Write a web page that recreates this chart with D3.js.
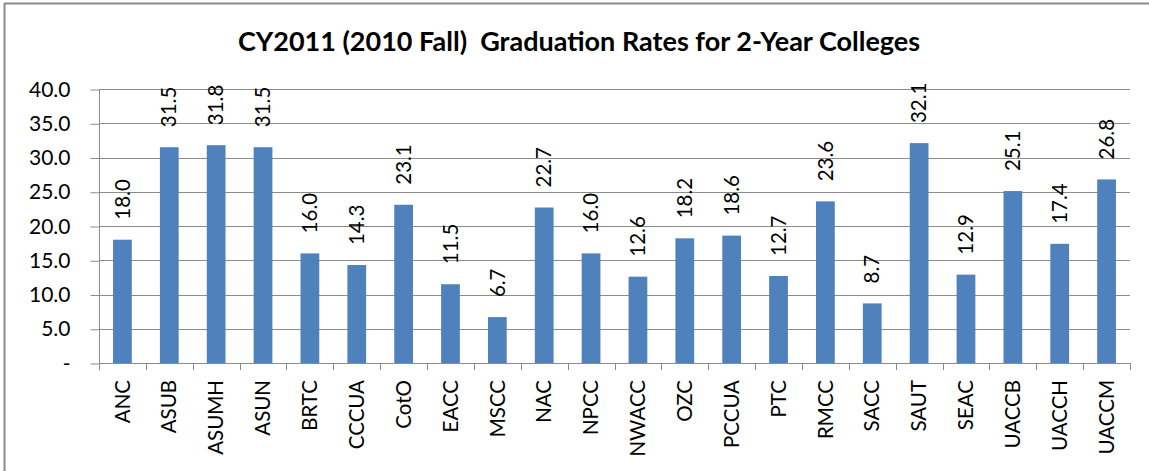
<!DOCTYPE html>
<html>
<head>
<meta charset="utf-8">
<script src="https://cdn.jsdelivr.net/npm/d3@7"></script>
<style>
  body { margin: 0; background: #fff; }
  text { font-family: Lato, "Open Sans", sans-serif; fill: #000; }
</style>
</head>
<body>
<svg id="chart"></svg>
<script>
// chart size
let width = 1149
let height = 471
let margin = { top: 89, right: 19, bottom: 108, left: 99 }

// data
let colleges = ['ANC', 'ASUB', 'ASUMH', 'ASUN', 'BRTC', 'CCCUA', 'CotO', 'EACC', 'MSCC', 'NAC', 'NPCC',
                'NWACC', 'OZC', 'PCCUA', 'PTC', 'RMCC', 'SACC', 'SAUT', 'SEAC', 'UACCB', 'UACCH', 'UACCM']
let rates = [18.0, 31.5, 31.8, 31.5, 16.0, 14.3, 23.1, 11.5, 6.7, 22.7, 16.0,
             12.6, 18.2, 18.6, 12.7, 23.6, 8.7, 32.1, 12.9, 25.1, 17.4, 26.8]
let yTicks = [0, 5, 10, 15, 20, 25, 30, 35, 40]
let title = 'CY2011 (2010 Fall)  Graduation Rates for 2-Year Colleges'

let svg = d3.select('#chart')
            .attr('width', width)
            .attr('height', height)

// outer frame (only top and left edges show)
svg.append('line').attr('x1', 4.5).attr('x2', width).attr('y1', 3.5).attr('y2', 3.5)
    .attr('stroke', '#8c8c8c').attr('stroke-width', 2)
svg.append('line').attr('x1', 4.5).attr('x2', 4.5).attr('y1', 3).attr('y2', height)
    .attr('stroke', '#8c8c8c').attr('stroke-width', 2)

svg.append('text')
    .attr('x', 579).attr('y', 51)
    .attr('text-anchor', 'middle')
    .attr('font-size', 27)
    .attr('font-weight', 'bold')
    .style('white-space', 'pre')
    .text(title)

let xScale = d3.scaleBand()
    .domain(colleges)
    .range([margin.left, width - margin.right])
    .paddingInner(0.6)
    .paddingOuter(0.3)

let yScale = d3.scaleLinear()
    .domain([0, 40])
    .range([height - margin.bottom, margin.top])

// gridlines
svg.append('g')
    .selectAll('line')
    .data(yTicks.slice(1))
    .enter()
    .append('line')
    .attr('x1', margin.left).attr('x2', width - margin.right)
    .attr('y1', d => Math.round(yScale(d)) + 0.5)
    .attr('y2', d => Math.round(yScale(d)) + 0.5)
    .attr('stroke', '#8c8c8c')

// bars
svg.append('g')
    .selectAll('rect')
    .data(rates)
    .enter()
    .append('rect')
    .attr('x', (d, i) => xScale(colleges[i]))
    .attr('width', xScale.bandwidth())
    .attr('y', d => yScale(d))
    .attr('height', d => yScale(0) - yScale(d))
    .attr('fill', '#4f81bd')

// value labels, rotated
svg.append('g')
    .selectAll('text')
    .data(rates)
    .enter()
    .append('text')
    .attr('transform', (d, i) => 'translate(' + (xScale(colleges[i]) + xScale.bandwidth() / 2) + ',' + (yScale(d) - 20) + ') rotate(-90)')
    .attr('dy', '0.35em')
    .attr('font-size', 20.5)
    .text(d => d3.format('.1f')(d))

// y axis
let yAxis = d3.axisLeft(yScale)
    .tickValues(yTicks)
    .tickSize(9)
    .tickPadding(20)
    .tickFormat(d => d === 0 ? '-' : d3.format('.1f')(d))
let yG = svg.append('g')
    .attr('transform', 'translate(' + (margin.left + 0.5) + ',0.5)')
    .call(yAxis)
yG.select('.domain').attr('stroke', '#8c8c8c').attr('d', 'M0,' + yScale(40) + 'V' + (yScale(0) + 7))
yG.selectAll('.tick line').attr('stroke', '#8c8c8c')
yG.selectAll('.tick text')
    .attr('font-family', 'Lato, sans-serif')
    .attr('font-size', 21)
    .attr('fill', '#000')

// x axis: tick marks between categories
let xG = svg.append('g')
let x0 = margin.left
xG.append('line')
    .attr('x1', margin.left).attr('x2', width - margin.right)
    .attr('y1', Math.round(yScale(0)) + 0.5).attr('y2', Math.round(yScale(0)) + 0.5)
    .attr('stroke', '#8c8c8c')
xG.selectAll('line.sep')
    .data(d3.range(colleges.length + 1))
    .enter()
    .append('line')
    .attr('class', 'sep')
    .attr('x1', i => Math.round(x0 + i * (width - margin.right - margin.left) / colleges.length) + 0.5)
    .attr('x2', i => Math.round(x0 + i * (width - margin.right - margin.left) / colleges.length) + 0.5)
    .attr('y1', yScale(0))
    .attr('y2', yScale(0) + 7)
    .attr('stroke', '#8c8c8c')

xG.selectAll('text')
    .data(colleges)
    .enter()
    .append('text')
    .attr('transform', d => 'translate(' + (xScale(d) + xScale.bandwidth() / 2) + ',' + (yScale(0) + 17) + ') rotate(-90)')
    .attr('text-anchor', 'end')
    .attr('dy', '0.35em')
    .attr('font-size', 20.5)
    .text(d => d)
</script>
</body>
</html>
